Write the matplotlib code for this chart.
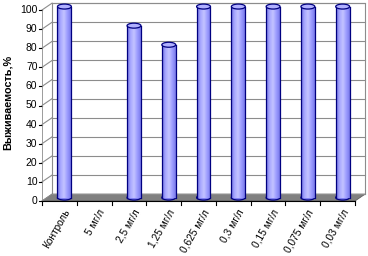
import matplotlib
matplotlib.use("Agg")
import matplotlib.pyplot as plt
import numpy as np
from matplotlib.colors import LinearSegmentedColormap
from matplotlib.patches import Ellipse, Polygon, Rectangle

plt.rcParams["font.family"] = ["Liberation Sans", "DejaVu Sans"]

categories = ["Контроль", "5 мг/л", "2,5 мг/л", "1,25 мг/л", "0,625 мг/л",
              "0,3 мг/л", "0,15 мг/л", "0,075 мг/л", "0,03 мг/л"]
survival = [100, 0, 90, 80, 100, 100, 100, 100, 100]
y_ticks = [0, 10, 20, 30, 40, 50, 60, 70, 80, 90, 100]

# fake 3d depth offset (data units)
dx, dy = 0.29, 3.6
n = len(categories)

fig = plt.figure(figsize=(3.68, 2.56), dpi=100)
ax = fig.add_axes([42 / 368, 55 / 256, 313 / 368, 191 / 256])
ax.set_xlim(0, n)
ax.set_ylim(0, 100)
ax.axis("off")

grid_c = "#8C8C8C"

# back wall
ax.add_patch(Polygon([(dx, dy), (n + dx, dy), (n + dx, 100 + dy), (dx, 100 + dy)],
                     closed=True, facecolor="white", edgecolor=grid_c, lw=0.8, clip_on=False))
for v in y_ticks:
    ax.plot([dx, n + dx], [v + dy, v + dy], color=grid_c, lw=0.8, clip_on=False)
    ax.plot([0, dx], [v, v + dy], color=grid_c, lw=0.8, clip_on=False)
    ax.plot([-0.08, 0], [v, v], color="black", lw=0.8, clip_on=False)
    ax.text(-0.13, v, str(v), ha="right", va="center", fontsize=7.5, clip_on=False)
ax.plot([0, 0], [0, 100], color=grid_c, lw=0.6, clip_on=False)

# floor
ax.add_patch(Polygon([(0, 0), (n, 0), (n + dx, dy), (dx, dy)], closed=True,
                     facecolor="#808080", edgecolor="#606060", lw=0.6, clip_on=False))
ax.plot([0, n], [0, 0], color="black", lw=0.8, clip_on=False)
for i in range(n + 1):
    ax.plot([i, i], [0, -2.2], color="black", lw=0.8, clip_on=False)

# cylinders
cmap = LinearSegmentedColormap.from_list(
    "cyl", ["#6F6FE0", "#A8A8FF", "#C4C4FF", "#9C9CFF", "#7A7AEA"])
grad = np.linspace(0, 1, 64).reshape(1, -1)
w, eh = 0.4, 2.6
for i, v in enumerate(survival):
    if v <= 0:
        continue
    cx = i + 0.5 + dx / 2
    y0 = dy / 2
    y1 = v + dy / 2
    im = ax.imshow(grad, cmap=cmap, aspect="auto", extent=(cx - w / 2, cx + w / 2, y0, y1),
                   zorder=3, clip_on=False)
    clip = Rectangle((cx - w / 2, y0), w, y1 - y0, transform=ax.transData)
    im.set_clip_path(clip)
    ax.add_patch(Ellipse((cx, y0), w, eh, facecolor="#8080F0", edgecolor="#000080",
                         lw=0.9, zorder=2.9, clip_on=False))
    ax.plot([cx - w / 2, cx - w / 2], [y0, y1], color="#000080", lw=0.9, zorder=4, clip_on=False)
    ax.plot([cx + w / 2, cx + w / 2], [y0, y1], color="#000080", lw=0.9, zorder=4, clip_on=False)
    ax.add_patch(Ellipse((cx, y1), w, eh, facecolor="#B0B0FF", edgecolor="#000080",
                         lw=0.9, zorder=5, clip_on=False))
ax.set_xlim(0, n)
ax.set_ylim(0, 100)

for i, lab in enumerate(categories):
    ax.text(i + 0.62, -3.5, lab, rotation=60, rotation_mode="anchor", ha="right", va="top",
            fontsize=7.3, clip_on=False)

fig.text(8 / 368, 1 - 102 / 256, "Выживаемость,%", rotation=90, ha="center", va="center",
         fontsize=7.8, fontweight="bold")

fig.savefig("out.png", dpi=100)
